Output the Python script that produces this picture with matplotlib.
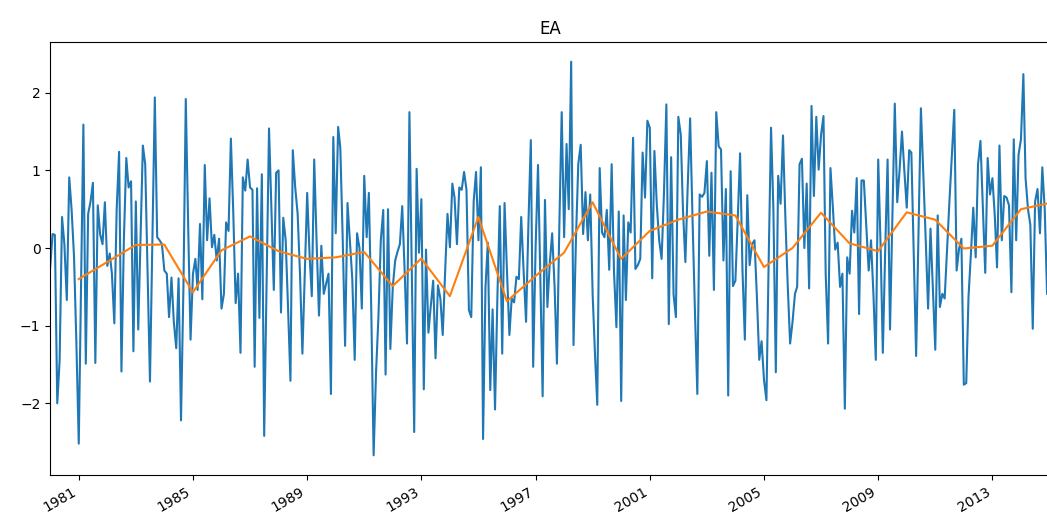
import matplotlib
matplotlib.use("Agg")
import matplotlib.pyplot as plt
import pandas as pd

# Monthly EA index, Jan 1980 - Dec 2014 (one row per year)
ea_monthly = [
    -0.25, 0.18, 0.17, -2.00, -1.45, 0.40, 0.05, -0.67, 0.91, 0.50, -0.10, -1.20,   # 1980
    -2.52, -0.40, 1.59, -1.49, 0.44, 0.60, 0.84, -1.48, 0.55, 0.18, 0.05, 0.59,     # 1981
    -0.23, -0.07, -0.33, -0.97, 0.50, 1.24, -1.59, 0.10, 1.16, 0.78, 0.86, -1.33,   # 1982
    0.60, -1.05, 0.10, 1.32, 1.08, -0.33, -1.72, 0.10, 1.94, 0.14, 0.10, 0.05,      # 1983
    -0.29, -0.33, -0.89, -0.38, -0.95, -1.29, -0.39, -2.22, -0.50, 1.92, 0.27, -1.18,  # 1984
    -0.33, -0.14, -0.54, 0.31, -0.66, 1.07, 0.10, 0.64, 0.01, 0.17, -0.16, 0.12,    # 1985
    -0.78, -0.59, 0.33, 0.22, 1.41, 0.44, -0.71, -0.33, -1.35, 0.91, 0.74, 1.14,    # 1986
    0.78, 0.75, -1.53, 0.77, -0.90, 0.95, -2.42, -0.42, 1.54, 0.52, -0.54, 0.97,    # 1987
    1.00, -0.83, 0.39, 0.10, -0.76, -1.71, 1.26, 0.78, 0.44, -0.33, -1.36, -0.35,   # 1988
    0.71, -0.10, -0.62, 1.14, 0.10, -0.87, 0.03, -0.59, -0.46, -0.33, -1.88, 1.43,  # 1989
    0.19, 1.56, 1.29, 0.10, -1.26, 0.58, 0.10, -0.40, -1.44, 0.19, 0.00, -0.78,     # 1990
    0.93, 0.14, 0.71, -0.80, -2.67, -1.60, -0.90, 0.10, 0.49, -1.63, 0.50, -1.30,   # 1991
    -0.50, -0.16, -0.05, 0.05, 0.54, -0.30, -1.23, 1.75, -0.30, -2.37, 1.02, -0.06, # 1992
    0.63, -1.82, -0.02, -1.09, -0.75, -0.42, -1.42, -0.48, -0.65, -1.12, -0.30, 0.44,  # 1993
    0.01, 0.83, 0.65, 0.05, 0.78, 0.75, 0.98, 0.75, -0.80, -0.89, 0.60, 0.98,       # 1994
    0.10, 1.04, -2.46, -0.50, 0.07, -1.83, -0.79, -2.08, -0.60, 0.54, -1.36, 0.58,  # 1995
    -0.30, -1.12, -0.65, -0.70, -0.37, -0.40, 0.40, -0.30, -0.95, 0.30, 1.39, -1.53,  # 1996
    0.00, 1.07, -0.30, -1.91, 0.62, -0.76, -0.20, 0.19, -0.50, -1.49, 0.30, 1.75,   # 1997
    0.14, 1.34, 0.50, 2.40, -1.25, 0.10, 1.08, 1.33, 0.18, 0.72, 0.10, 0.69,        # 1998
    -0.60, -1.40, -2.02, 1.03, 0.20, 0.14, 0.49, -0.28, 1.08, -0.30, -1.02, 0.47,   # 1999
    -1.97, 0.42, -0.67, 0.33, 0.20, 1.42, -0.27, -0.22, -0.14, 1.23, 0.65, 1.64,    # 2000
    1.55, -0.39, 1.25, 0.55, 0.10, -0.14, 0.70, 1.85, -0.98, 1.17, -0.60, -0.89,    # 2001
    1.69, 1.46, 0.50, -0.18, 0.80, 1.67, 0.40, -0.80, -1.88, 0.69, 0.66, 0.71,      # 2002
    1.12, -0.10, 0.97, -0.54, 1.75, 1.31, 1.27, -0.16, 0.76, -1.90, 0.99, -0.49,    # 2003
    -0.42, 0.40, 1.22, -0.30, -1.18, 0.68, -0.22, 0.05, 0.10, -0.60, -1.44, -1.20,  # 2004
    -1.70, -1.96, -0.20, 1.55, 0.50, -1.60, 0.93, 0.57, 1.45, 0.40, -0.50, -1.23,   # 2005
    -0.95, -0.59, -0.50, 1.08, 1.15, 0.00, 0.83, -0.52, 1.83, 0.67, 1.69, 1.01,     # 2006
    1.46, 1.70, -0.33, -1.23, 1.03, 0.52, -0.02, 0.07, -0.50, -0.33, -2.07, -0.12,  # 2007
    -0.33, 0.48, 0.20, 0.90, -0.85, 0.87, 0.87, 0.30, -0.29, 0.10, -0.60, -1.44,    # 2008
    1.14, 0.00, -1.35, 0.00, 1.14, -1.05, 0.40, 1.86, 0.59, 1.00, 1.50, 1.00,       # 2009
    0.52, 1.26, 1.23, -0.10, -1.39, 0.20, 1.80, 0.95, 0.10, -0.78, 0.25, -0.50,     # 2010
    -1.31, 0.42, -0.76, -0.59, -0.65, 0.00, 0.60, 1.20, 1.78, -0.29, -0.01, 0.12,   # 2011
    -1.76, -1.74, -0.63, -0.07, 0.52, -0.12, 1.08, 1.38, 0.50, -0.32, 1.16, 0.69,   # 2012
    0.90, 0.40, -0.25, 1.32, 0.10, 0.67, 0.65, 0.55, -0.57, 1.40, 0.10, 1.20,       # 2013
    1.40, 2.24, 0.90, 0.50, 0.30, -1.04, 0.60, 0.76, 0.19, 1.04, 0.50, -0.59,       # 2014
]

# Annual means (plotted at year end), 1980 - 2014
annual_years = list(range(1980, 2015))
ea_annual = [
    -0.40, -0.18, 0.04, 0.045, -0.57, -0.03, 0.15, -0.04, -0.14, -0.12,
    -0.05, -0.49, -0.135, -0.62, 0.40, -0.685, -0.36, -0.06, 0.59, -0.14,
    0.22, 0.365, 0.47, 0.42, -0.245, 0.00, 0.455, 0.06, -0.04, 0.46,
    0.365, -0.006, 0.03, 0.50, 0.58,
]

tick_years = [1981, 1985, 1989, 1993, 1997, 2001, 2005, 2009, 2013]
title = "EA"

months = pd.date_range("1980-01-01", periods=len(ea_monthly), freq="MS")
year_ends = pd.to_datetime([f"{y}-12-31" for y in annual_years])

fig = plt.figure(figsize=(10.47, 5.24), dpi=100)
ax = fig.add_axes([0.0479, 0.0935, 0.9544, 0.8263])
ax.plot(months, ea_monthly, color="C0", lw=1.5)
ax.plot(year_ends, ea_annual, color="C1", lw=1.5)
ax.set_xlim(pd.Timestamp("1980-01-01"), pd.Timestamp("2014-12-31"))
ax.set_xticks(pd.to_datetime([f"{y}-01-01" for y in tick_years]))
ax.set_xticklabels([str(y) for y in tick_years], rotation=30, ha="right")
ax.set_title(title)
fig.savefig("out.png", dpi=100)
